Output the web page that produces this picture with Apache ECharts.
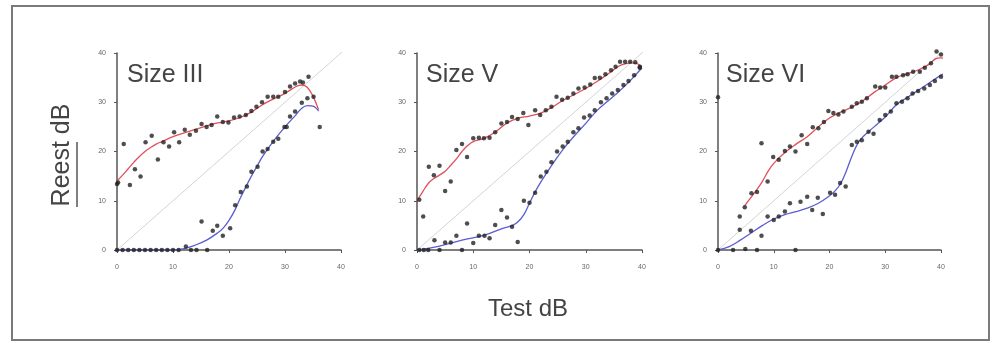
<!DOCTYPE html>
<html>
<head>
<meta charset="utf-8">
<title>Reest vs Test</title>
<script src="https://cdn.jsdelivr.net/npm/echarts@6/dist/echarts.min.js"></script>
<style>
  html, body { margin: 0; padding: 0; background: #fff; }
  #main { width: 993px; height: 343px; }
</style>
</head>
<body>
<div id="main"></div>
<script>
// panel titles
var panelNames = ['Size III', 'Size V', 'Size VI'];
var xTicks = [0, 10, 20, 30, 40];
var yTicks = [0, 10, 20, 30, 40];
var diagLine = [[0, 0], [41.7, 41.7]];

// Size III
var upper1 = [[0,13.4],[0.2,13.7],[1.2,21.5],[2.3,13.2],[3.2,16.4],[4.2,14.9],[5.1,21.9],[6.2,23.2],[7.3,18.4],[8.3,21.9],[9.3,21],[10.2,23.9],[11.1,21.9],[12.1,24.4],[13,23.4],[14.1,24.2],[15.1,25.6],[16,25],[16.9,25.4],[17.9,27.1],[18.9,26],[19.9,25.9],[20.9,26.9],[21.9,27.1],[23,27.4],[24,28.2],[24.9,29.1],[25.9,30],[26.9,31.1],[27.9,31.1],[28.8,31.1],[30,32.1],[30.9,33.2],[31.8,33.8],[32.7,34.2],[33.2,34],[34.2,35.2],[35.1,31.1],[36.2,25]];
var lower1 = [[0,0],[1,0],[2,0],[3,0],[4,0],[5,0],[6,0],[7,0],[8,0],[9,0],[10,0],[11,0],[12.3,0.7],[13.2,0],[14.2,0],[15.1,5.8],[16.1,0],[17.1,3.9],[17.9,4.9],[18.9,2.9],[20.2,4.4],[21.1,9.1],[22.1,11.8],[23.2,12.9],[24,15.9],[25.1,16.9],[26,20],[26.9,20.5],[27.9,22],[28.8,22.6],[29.9,25],[30.3,25],[30.9,27.1],[31.8,28.1],[33,29.9],[34,30.8]];
var red1 = [[0,14],[1,15.2],[2,16.5],[3,17.8],[4,19],[5,20],[6,20.8],[7,21.5],[8,22],[10,23],[12,23.8],[14,24.5],[16,25.2],[18,25.8],[20,26.2],[22,26.9],[24,28],[26,29.5],[28,30.7],[30,31.8],[32,33.2],[33,33.5],[34,33],[35,31.2],[36,28.5]];
var blue1 = [[0,0],[10,0],[12,0.3],[14,1],[16,2],[18,3.5],[19,4.5],[20,6],[21,8],[22,10.5],[23,12.8],[24,15],[25,17],[26,19],[28,22.2],[30,25],[32,27.5],[33,28.8],[34,29.3],[35,29.2],[36,28.2]];

// Size V
var upper2 = [[0.4,10.2],[1.1,6.8],[2.1,16.9],[3,15.2],[4,17.1],[5,12],[6,13.9],[7,20.3],[8,21.5],[8.9,18.9],[10,22.7],[11,22.8],[11.9,22.7],[12.9,22.8],[13.9,23.9],[15,25.7],[16,26],[16.9,27],[17.9,26.6],[18.9,27.8],[19.8,25.4],[21,28.4],[21.9,27.4],[22.9,28.4],[23.9,29.1],[24.8,31.1],[25.8,30.5],[26.8,30.9],[27.8,31.8],[28.7,32.8],[29.8,33],[30.8,33.6],[31.6,34.9],[32.5,35],[33.5,35.7],[34.5,36.5],[35.3,37.2],[36.1,38.2],[37,38.2],[37.9,38.2],[38.8,38.1],[39.6,37.2]];
var lower2 = [[0.4,0],[1.2,0],[2,0],[3.1,2],[4,0],[5,1.5],[6,1.5],[7,2.9],[8,0],[8.9,5.4],[10,1.4],[11,2.9],[12,2.9],[12.9,2.4],[13.9,5.1],[15,8.1],[16,6.6],[16.9,4.7],[17.9,1.6],[19,10],[20,9.6],[21,11.6],[22,14.9],[23,15.9],[23.9,17.8],[24.9,20],[25.9,21],[26.8,22],[27.8,23.9],[28.7,24.7],[29.7,26.9],[30.7,27.3],[31.6,28.4],[32.7,30],[33.7,30.8],[34.7,31.8],[35.7,32.5],[36.7,33.5],[37.6,34.3],[38.6,35.5],[39.6,37]];
var red2 = [[0,10],[1,11.8],[2,13.5],[3,14.5],[4,15.2],[5,16],[6,17.2],[7,18.5],[8,20],[9,21.2],[10,22],[12,22.7],[14,24],[16,25.8],[18,26.8],[20,27.2],[22,27.8],[24,29],[26,30.4],[28,31.6],[30,32.8],[32,34.2],[34,35.8],[36,37.4],[37,37.8],[38,38],[39,37.9],[40,37.2]];
var blue2 = [[0,0],[4,0.8],[8,2],[12,3],[15,4.3],[17,5],[18,5.8],[19,7.2],[20,9.5],[21,11.8],[22,13.8],[24,17.3],[26,20.5],[28,23.2],[30,25.7],[32,28.3],[34,30.3],[36,32.3],[38,34.5],[40,37]];

// Size VI
var upper3 = [[0,31],[3.9,6.8],[4.8,8.7],[6,11.5],[7,11.8],[7.8,21.7],[8.9,13.9],[9.9,18.9],[10.9,18.3],[12,20.1],[12.9,21],[13.9,20],[15,23.3],[16,21.5],[17,24.9],[18,24.7],[19,26],[19.8,28.2],[20.7,27.8],[21.6,27.5],[22.5,28.1],[24,29.1],[24.9,29.8],[25.8,30.1],[26.7,30.8],[28.2,33.2],[29.1,33],[30,33],[31.2,35.2],[32,35.2],[33.2,35.5],[34,35.7],[35,36.2],[36.2,36.2],[37.1,37],[38.2,37.9],[39.2,40.3],[40,39.7]];
var lower3 = [[0,0],[2.7,0],[3.9,4.1],[4.9,0.2],[5.9,3.9],[7,0],[7.8,2.9],[8.9,6.8],[10,6.1],[10.9,6.8],[12,7.8],[12.9,9.5],[13.9,0],[14.8,9.8],[16,10.8],[16.9,8.1],[17.9,10.6],[18.8,7.3],[20.1,11.6],[21,11.2],[21.9,13.6],[22.9,12.9],[24,21.3],[24.9,22],[25.8,22.3],[27,24],[27.9,23.6],[29,26.4],[30,27.4],[31,28.1],[32,29.8],[33,30.1],[34,30.8],[34.9,31.8],[35.9,32.3],[37,32.8],[38,33.5],[38.9,34.3],[40,35.2]];
var red3 = [[4.8,9],[6,10.8],[7,12.3],[8,14],[9,16],[10,17.6],[12,19.8],[14,21.5],[16,23],[18,25],[20,26.8],[22,28],[24,29],[26,30.3],[28,32],[30,33.5],[32,35],[34,35.8],[36,36.6],[38,37.8],[39,38.8],[40,39],[41.5,38.5]];
var blue3 = [[0,0],[2,0.7],[4,2],[6,3.5],[8,5],[10,6.3],[12,7.2],[14,7.8],[16,8.5],[18,9.5],[20,11],[21,12],[22,13.5],[23,16],[24,19],[25,21.5],[26,23],[28,25],[30,27],[32,29.5],[34,31],[36,32.5],[38,34],[40,35.5],[41.5,36.5]];

var uppers = [upper1, upper2, upper3];
var lowers = [lower1, lower2, lower3];
var reds = [red1, red2, red3];
var blues = [blue1, blue2, blue3];

var gridLefts = [117, 417, 718];
var gridWidths = [224, 225, 223];
var titleLefts = [127, 426, 726];

var axisColor = '#555';
var font = '"Liberation Sans", Arial, sans-serif';

var grids = [], xAxes = [], yAxes = [], titles = [], series = [];
for (var i = 0; i < 3; i++) {
  grids.push({ left: gridLefts[i], top: 53, width: gridWidths[i], height: 197 });
  xAxes.push({
    gridIndex: i, type: 'value',
    min: xTicks[0], max: xTicks[xTicks.length - 1], interval: xTicks[1] - xTicks[0],
    offset: 7,
    axisLine: { show: true, lineStyle: { color: axisColor, width: 1.5 } },
    axisTick: { show: true, length: 3, lineStyle: { color: axisColor } },
    axisLabel: { fontSize: 7, color: '#666', margin: 7, fontFamily: font },
    splitLine: { show: false }
  });
  yAxes.push({
    gridIndex: i, type: 'value',
    min: yTicks[0], max: yTicks[yTicks.length - 1], interval: yTicks[1] - yTicks[0],
    offset: 6,
    axisLine: { show: true, lineStyle: { color: axisColor, width: 1.5 } },
    axisTick: { show: true, length: 3, lineStyle: { color: axisColor } },
    axisLabel: { fontSize: 7, color: '#666', margin: 5, fontFamily: font },
    splitLine: { show: false }
  });
  titles.push({
    text: panelNames[i], left: titleLefts[i], top: 63, padding: 0,
    textStyle: { fontSize: 25, fontWeight: 'normal', color: '#444', fontFamily: font }
  });

  series.push({
    type: 'line', xAxisIndex: i, yAxisIndex: i, data: diagLine, clip: false,
    showSymbol: false, silent: true, z: 1,
    lineStyle: { color: '#d4d4d4', width: 1 }
  });
  series.push({
    type: 'line', xAxisIndex: i, yAxisIndex: i, data: reds[i], clip: false,
    smooth: 0.4, showSymbol: false, z: 2,
    lineStyle: { color: '#e0505c', width: 1.3 }
  });
  series.push({
    type: 'line', xAxisIndex: i, yAxisIndex: i, data: blues[i], clip: false,
    smooth: 0.4, showSymbol: false, z: 2,
    lineStyle: { color: '#5a5ed0', width: 1.3 }
  });
  series.push({
    type: 'scatter', xAxisIndex: i, yAxisIndex: i, data: uppers[i], clip: false,
    symbol: 'circle', symbolSize: 4.5, z: 3,
    itemStyle: { color: '#222' }
  });
  series.push({
    type: 'scatter', xAxisIndex: i, yAxisIndex: i, data: lowers[i], clip: false,
    symbol: 'circle', symbolSize: 4.5, z: 3,
    itemStyle: { color: '#222' }
  });
}

var chart = echarts.init(document.getElementById('main'));
chart.setOption({
  animation: false,
  backgroundColor: '#fff',
  title: titles,
  grid: grids,
  xAxis: xAxes,
  yAxis: yAxes,
  series: series,
  graphic: [
    { type: 'rect', shape: { x: 12, y: 6, width: 977, height: 334 },
      style: { fill: 'none', stroke: '#7a7a7a', lineWidth: 2 }, silent: true },
    { type: 'text', x: 62, y: 155, rotation: Math.PI / 2,
      style: { text: 'Reest dB', fill: '#444', font: '25px ' + font,
               textAlign: 'center', textVerticalAlign: 'middle' } },
    { type: 'line', shape: { x1: 77, y1: 142, x2: 77, y2: 207 },
      style: { stroke: '#555', lineWidth: 1.5 } },
    { type: 'text', x: 528, y: 309,
      style: { text: 'Test dB', fill: '#444', font: '24px ' + font,
               textAlign: 'center', textVerticalAlign: 'middle' } }
  ]
});
</script>
</body>
</html>
